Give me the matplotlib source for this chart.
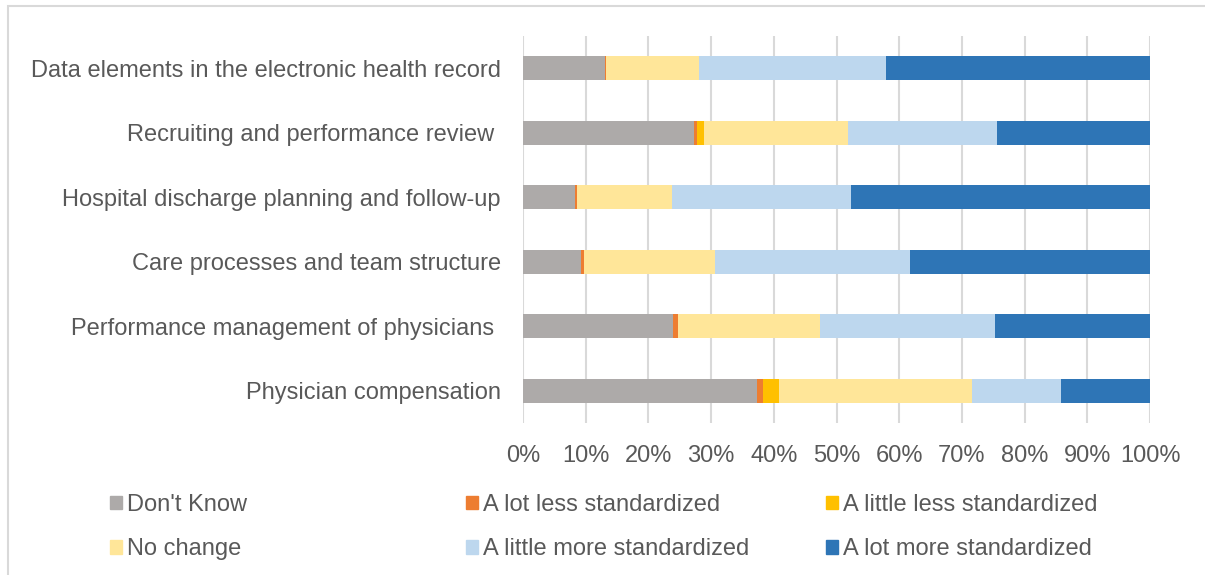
import numpy as np
import matplotlib
matplotlib.use("Agg")
from matplotlib import pyplot as plt
from matplotlib.patches import Rectangle, Patch

categories = [
    "Data elements in the electronic health record",
    "Recruiting and performance review ",
    "Hospital discharge planning and follow-up",
    "Care processes and team structure",
    "Performance management of physicians ",
    "Physician compensation",
]
series_names = [
    "Don't Know",
    "A lot less standardized",
    "A little less standardized",
    "No change",
    "A little more standardized",
    "A lot more standardized",
]
dont_know = [13.0, 27.2, 8.3, 9.3, 24.0, 37.4]
lot_less = [0.3, 0.5, 0.3, 0.4, 0.7, 0.8]
little_less = [0.0, 1.1, 0.0, 0.0, 0.0, 2.6]
no_change = [14.8, 23.1, 15.2, 21.0, 22.7, 30.8]
little_more = [29.8, 23.7, 28.5, 31.0, 27.8, 14.2]
lot_more = [42.1, 24.4, 47.7, 38.3, 24.8, 14.2]
colors = ["#ADAAA9", "#ED7D31", "#FFC000", "#FFE699", "#BDD7EE", "#2E75B6"]

txt = "#595959"
plt.rcParams["font.family"] = ["Liberation Sans", "DejaVu Sans"]
fs = 17

fig = plt.figure(figsize=(12.05, 5.75), dpi=100)
ax = fig.add_axes([523 / 1205, 1 - 423 / 575, 627 / 1205, 387 / 575])

data = [dont_know, lot_less, little_less, no_change, little_more, lot_more]
y = np.arange(len(categories))
left = np.zeros(len(categories))
for vals, name, c in zip(data, series_names, colors):
    vals = np.array(vals)
    ax.barh(y, vals, left=left, height=0.37, color=c, label=name, zorder=3)
    left += vals

ax.set_xlim(0, 100)
ax.set_ylim(len(categories) - 0.5, -0.5)
ax.set_yticks(y)
ax.set_yticklabels(categories)
ax.set_xticks(np.arange(0, 101, 10))
ax.set_xticklabels([f"{v}%" for v in range(0, 101, 10)])
ax.tick_params(axis="both", length=0, labelsize=fs, colors=txt)
ax.tick_params(axis="y", pad=16)
ax.tick_params(axis="x", pad=16)
ax.grid(axis="x", color="#D9D9D9", linewidth=1.5, zorder=0)
for s in ax.spines.values():
    s.set_visible(False)

# legend in three columns
cols = [(0, 3), (1, 4), (2, 5)]
xs = [110, 466, 826]
for (a, b), x0 in zip(cols, xs):
    handles = [Patch(color=colors[a]), Patch(color=colors[b])]
    leg = fig.legend(handles, [series_names[a], series_names[b]],
                     loc="upper left", bbox_to_anchor=(x0 / 1205, 1 - 494 / 575),
                     frameon=False, fontsize=fs, handlelength=0.5, handleheight=0.5,
                     handletextpad=0.2, labelspacing=0.95, borderpad=0, borderaxespad=0)
    for t in leg.get_texts():
        t.set_color(txt)

# outer frame
fig.patches.append(Rectangle((8 / 1205, -0.1), 1.2, 1 - 6 / 575 + 0.1,
                             transform=fig.transFigure, fill=False,
                             edgecolor="#D9D9D9", linewidth=1.5))

fig.savefig("out.png", dpi=100)
